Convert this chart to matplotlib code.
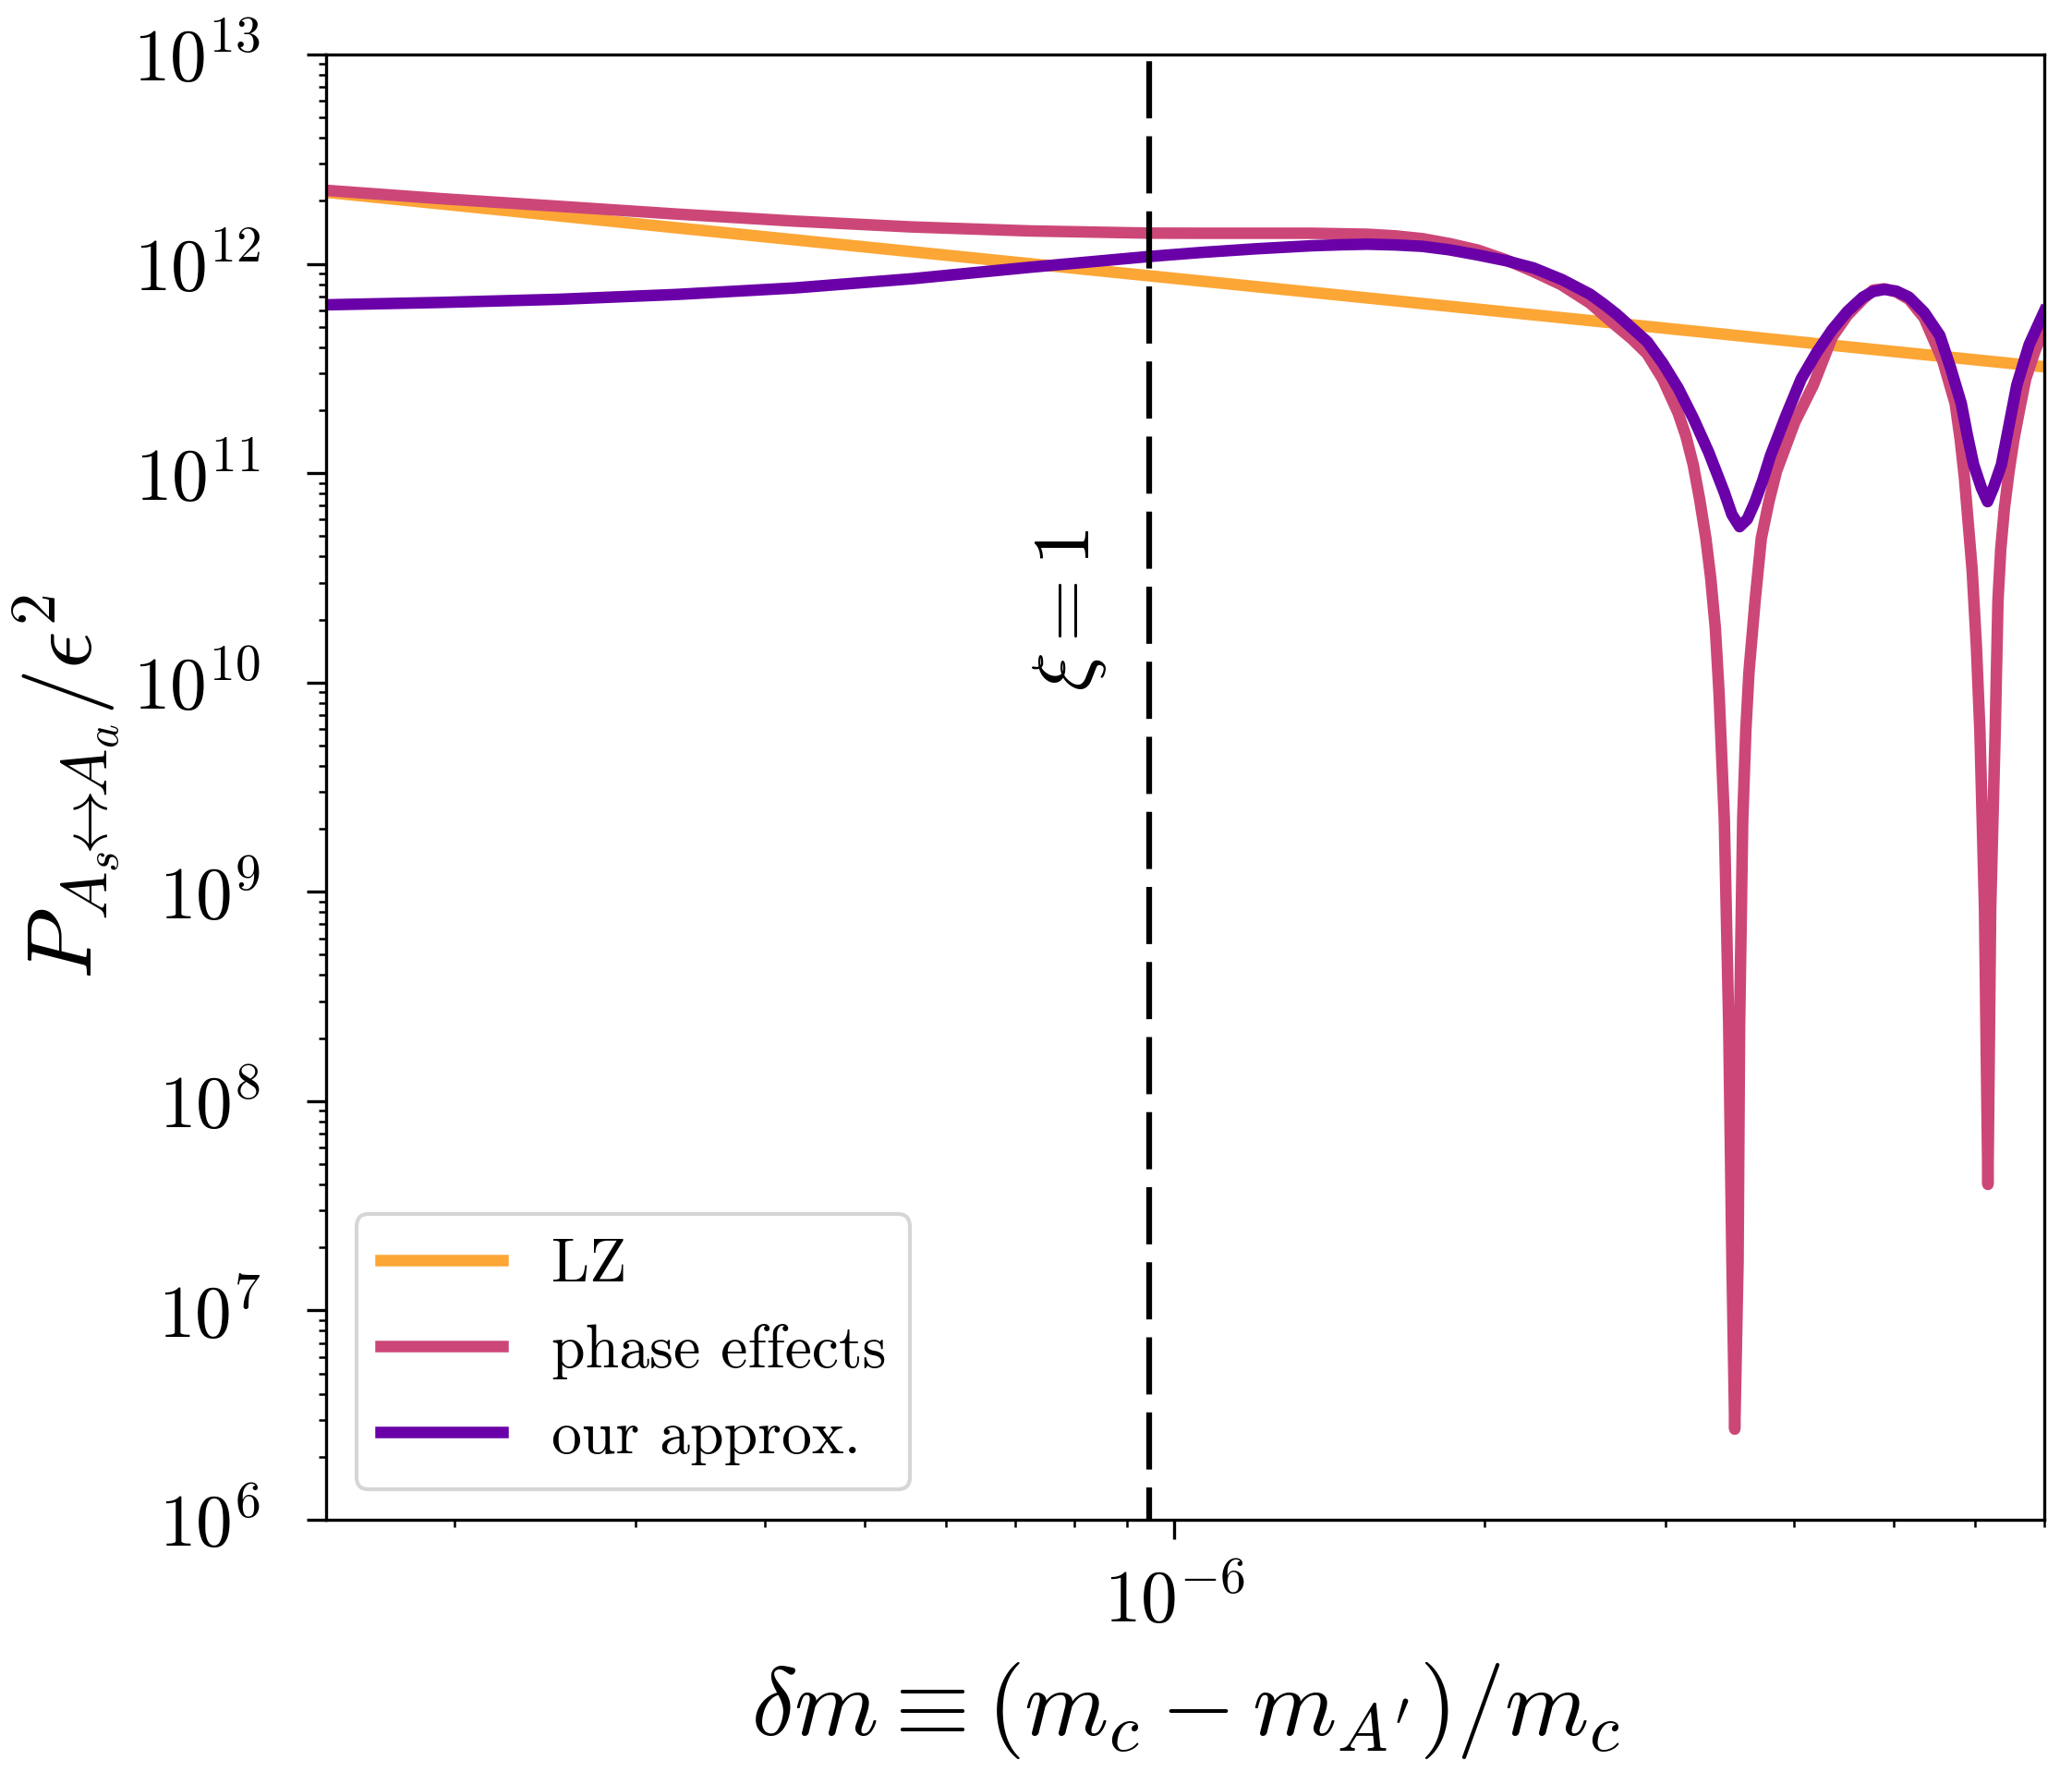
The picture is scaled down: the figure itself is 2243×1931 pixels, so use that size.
"""Conversion probability vs mass splitting: LZ, phase effects, our approx."""
import matplotlib
matplotlib.use("Agg")
import matplotlib.pyplot as plt
from matplotlib.ticker import NullFormatter, LogLocator

plt.rcParams.update({
    "font.family": "serif",
    "font.serif": ["cmr10"],
    "mathtext.fontset": "cm",
    "axes.formatter.use_mathtext": True,
    "axes.unicode_minus": False,
})

# LZ: straight power law in log-log
lz_dm = [1.5e-7, 5e-7, 2e-6, 7e-6]
lz_p = [2.198e12, 1.205e12, 6.03e11, 3.221e11]

# phase effects
phase_dm = [1.500e-7, 1.940e-7, 2.525e-7, 3.286e-7, 4.276e-7, 5.567e-7, 7.242e-7,
            9.434e-7, 1.061e-6, 1.360e-6, 1.539e-6, 1.640e-6, 1.742e-6, 1.850e-6,
            1.972e-6, 2.100e-6, 2.233e-6, 2.375e-6, 2.533e-6, 2.689e-6, 2.783e-6,
            2.879e-6, 2.981e-6, 3.086e-6, 3.140e-6, 3.192e-6, 3.238e-6, 3.284e-6,
            3.319e-6, 3.354e-6, 3.382e-6, 3.422e-6, 3.456e-6, 3.481e-6, 3.503e-6,
            3.529e-6, 3.541e-6, 3.566e-6, 3.591e-6, 3.616e-6, 3.666e-6, 3.717e-6,
            3.781e-6, 3.846e-6, 4.006e-6, 4.175e-6, 4.355e-6, 4.508e-6, 4.665e-6,
            4.775e-6, 4.895e-6, 5.027e-6, 5.172e-6, 5.350e-6, 5.428e-6, 5.576e-6,
            5.735e-6, 5.799e-6, 5.855e-6, 5.957e-6, 6.014e-6, 6.061e-6, 6.124e-6,
            6.171e-6, 6.209e-6, 6.272e-6, 6.311e-6, 6.350e-6, 6.403e-6, 6.470e-6,
            6.537e-6, 6.619e-6, 6.715e-6, 6.855e-6, 7.0e-6]
phase_p = [2.245e12, 2.048e12, 1.883e12, 1.729e12, 1.600e12, 1.500e12, 1.436e12,
           1.402e12, 1.400e12, 1.400e12, 1.385e12, 1.360e12, 1.319e12, 1.250e12,
           1.163e12, 1.045e12, 9.18e11, 7.96e11, 6.50e11, 5.04e11, 4.38e11,
           3.72e11, 2.82e11, 1.939e11, 1.508e11, 1.098e11, 7.53e10, 4.87e10,
           3.18e10, 1.816e10, 8.92e9, 2.22e9, 2.30e8, 1.72e7, 2.71e6,
           1.72e7, 2.30e8, 2.22e9, 5.94e9, 1.119e10, 2.46e10, 4.87e10,
           7.31e10, 1.022e11, 1.751e11, 2.63e11, 4.46e11, 5.69e11, 6.77e11,
           7.49e11, 7.60e11, 7.34e11, 6.77e11, 5.52e11, 4.69e11, 3.46e11,
           2.15e11, 1.458e11, 9.52e10, 3.44e10, 1.483e10, 5.88e9, 8.35e8,
           4.00e7, 8.35e8, 5.88e9, 2.46e10, 4.31e10, 6.81e10, 1.022e11,
           1.429e11, 1.978e11, 2.82e11, 3.83e11, 4.94e11]

# our approximation
approx_dm = [1.500e-7, 1.940e-7, 2.525e-7, 3.286e-7, 4.276e-7, 5.567e-7, 7.242e-7,
             9.434e-7, 1.061e-6, 1.201e-6, 1.360e-6, 1.450e-6, 1.539e-6, 1.640e-6,
             1.742e-6, 1.850e-6, 1.972e-6, 2.100e-6, 2.233e-6, 2.380e-6, 2.533e-6,
             2.610e-6, 2.689e-6, 2.881e-6, 2.981e-6, 3.086e-6, 3.194e-6, 3.306e-6,
             3.422e-6, 3.481e-6, 3.541e-6, 3.603e-6, 3.666e-6, 3.729e-6, 3.795e-6,
             3.928e-6, 4.064e-6, 4.207e-6, 4.355e-6, 4.508e-6, 4.665e-6, 4.775e-6,
             4.895e-6, 5.027e-6, 5.172e-6, 5.350e-6, 5.541e-6, 5.676e-6, 5.814e-6,
             5.895e-6, 5.977e-6, 6.081e-6, 6.166e-6, 6.247e-6, 6.360e-6, 6.470e-6,
             6.582e-6, 6.767e-6, 7.0e-6]
approx_p = [6.37e11, 6.54e11, 6.77e11, 7.14e11, 7.67e11, 8.49e11, 9.63e11,
            1.083e12, 1.133e12, 1.180e12, 1.220e12, 1.233e12, 1.241e12, 1.231e12,
            1.212e12, 1.167e12, 1.102e12, 1.035e12, 9.56e11, 8.41e11, 7.17e11,
            6.45e11, 5.75e11, 4.24e11, 3.36e11, 2.55e11, 1.824e11, 1.252e11,
            8.09e10, 6.34e10, 5.55e10, 6.03e10, 7.31e10, 9.23e10, 1.215e11,
            1.881e11, 2.82e11, 3.77e11, 4.84e11, 5.93e11, 6.93e11, 7.38e11,
            7.55e11, 7.41e11, 6.93e11, 5.87e11, 4.55e11, 3.19e11, 2.15e11,
            1.508e11, 1.098e11, 8.51e10, 7.31e10, 8.51e10, 1.098e11, 1.699e11,
            2.63e11, 4.11e11, 5.93e11]

xi_one = 9.45e-7  # where xi = 1

fig = plt.figure(figsize=(2243 / 300, 1931 / 300), dpi=300)
ax = fig.add_axes([353 / 2243, 1 - 1645 / 1931, 1860 / 2243, 1586 / 1931])

ax.plot(lz_dm, lz_p, color="#FCA636", lw=3, label="LZ")
ax.plot(phase_dm, phase_p, color="#CC4778", lw=3, label="phase effects")
ax.plot(approx_dm, approx_p, color="#6A00A8", lw=3, label="our approx.")
ax.axvline(xi_one, color="black", lw=1.5, linestyle=(4.3, (9.9, 3.1)), zorder=5)
ax.text(7.91e-7, 2.22e10, r"$\xi = 1$", rotation=90, ha="center", va="center",
        fontsize=21)

ax.set_xscale("log")
ax.set_yscale("log")
ax.set_xlim(1.5e-7, 7e-6)
ax.set_ylim(1e6, 1e13)
ax.yaxis.set_major_locator(LogLocator(base=10, numticks=20))
ax.yaxis.set_minor_locator(LogLocator(base=10, subs=range(2, 10), numticks=20))
ax.xaxis.set_minor_formatter(NullFormatter())
ax.yaxis.set_minor_formatter(NullFormatter())
ax.tick_params(which="major", length=5, labelsize=19)
ax.tick_params(axis="x", which="major", pad=7.5)
ax.tick_params(axis="y", which="major", pad=12)

ax.set_xlabel(r"$\delta m \equiv (m_c - m_{A'})/m_c$", fontsize=25, labelpad=6)
ax.set_ylabel(r"$P_{A_s\!\!\leftrightarrow\!\!A_a}/\epsilon^2$", fontsize=24,
              labelpad=3)
ax.legend(loc="lower left", fontsize=15.8)

fig.savefig("out.png", dpi=300)
